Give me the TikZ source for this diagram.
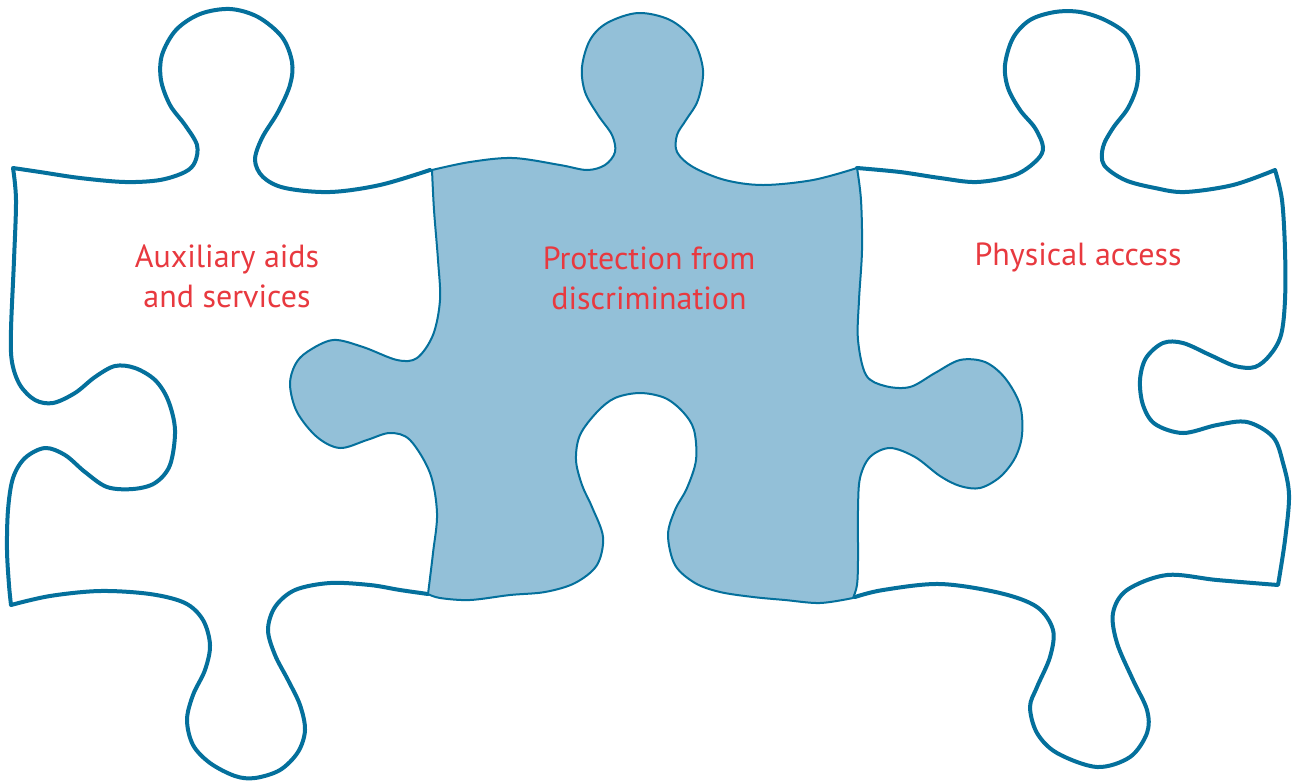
\documentclass[tikz,border=0pt]{standalone}
\usepackage{fontspec}
\setmainfont{PT Sans}
\definecolor{edge}{HTML}{04709C}
\definecolor{piecefill}{HTML}{93C0D8}
\definecolor{labelred}{HTML}{E8393F}
\begin{document}
\begin{tikzpicture}[x=1pt,y=-1pt,
  thickedge/.style={draw=edge, line width=4pt, line join=round, line cap=round},
  thinedge/.style={draw=edge, line width=2pt, fill=piecefill, line join=round},
  lbl/.style={text=labelred, font=\fontsize{32}{40}\selectfont, align=center}]
\fill[white] (0,0) rectangle (1297,780);
\useasboundingbox (0,0) rectangle (1297,780);
% left piece (open outline; right side is the middle piece's edge)
\draw[thickedge]
  plot[smooth, tension=0.55] coordinates {(430,170) (380,185) (330,192) (285,188) (263,177) (255,160) (262,138) (278,112) (290,85) (292,62) (282,37) (258,17) (230,9) (200,14) (176,30) (162,55) (161,80) (170,105) (185,125) (197,145) (195,162) (185,172) (160,180) (125,182) (80,178) (40,172) (13,168)}
  -- plot[smooth, tension=0.55] coordinates {(13,168) (16,200) (14,260) (11,330) (12,362) (20,385) (35,400) (53,403) (75,393) (95,377) (115,366) (135,368) (155,380) (168,400) (175,430) (170,465) (155,483) (133,489) (107,487) (85,472) (65,455) (45,448) (25,458) (13,478) (8,510) (7,550) (9,585) (11,605)}
  -- plot[smooth, tension=0.55] coordinates {(11,605) (50,596) (100,591) (150,594) (185,603) (203,620) (210,645) (205,670) (193,695) (187,720) (193,745) (210,763) (235,776) (255,778) (280,770) (298,752) (305,730) (300,705) (288,680) (275,655) (268,630) (275,607) (295,590) (330,583) (370,585) (400,590) (428,594)};
% right piece (open outline)
\draw[thickedge]
  plot[smooth, tension=0.55] coordinates {(857,168) (900,172) (940,178) (977,182) (1015,175) (1037,160) (1043,147) (1035,128) (1020,110) (1008,88) (1005,65) (1013,38) (1030,20) (1055,12) (1080,12) (1105,20) (1127,35) (1137,60) (1137,85) (1128,108) (1113,128) (1103,147) (1104,165) (1125,180) (1155,188) (1185,192) (1233,185) (1275,170)}
  -- plot[smooth, tension=0.55] coordinates {(1275,170) (1282,200) (1285,250) (1285,300) (1281,335) (1270,355) (1255,367) (1235,366) (1210,355) (1183,343) (1163,343) (1146,358) (1140,380) (1143,405) (1155,424) (1183,433) (1217,425) (1247,422) (1273,437) (1283,463) (1289,495) (1285,540) (1278,585)}
  -- plot[smooth, tension=0.55] coordinates {(1278,585) (1217,580) (1167,575) (1127,590) (1113,613) (1117,643) (1133,680) (1147,710) (1147,733) (1130,757) (1097,767) (1057,753) (1037,733) (1030,707) (1037,687) (1050,657) (1053,630) (1037,607) (1000,593) (940,584) (883,590) (855,597)};
% middle piece
\draw[thinedge]
  plot[smooth, tension=0.55] coordinates {(432,170) (470,162) (513,158) (560,165) (587,170) (605,165) (615,152) (612,135) (598,115) (585,92) (582,67) (590,40) (607,23) (638,13) (670,20) (693,40) (703,70) (698,100) (686,120) (677,135) (677,152) (693,167) (725,180) (763,185) (813,180) (857,168)}
  -- plot[smooth, tension=0.55] coordinates {(857,168) (861,200) (862,250) (859,300) (858,340) (866,375) (885,386) (910,387) (935,373) (960,360) (985,362) (1005,378) (1020,405) (1022,435) (1015,458) (1000,477) (980,488) (960,486) (940,476) (915,457) (890,448) (870,457) (860,478) (858,510) (858,560) (857,585) (853,598)}
  -- plot[smooth, tension=0.55] coordinates {(853,598) (820,603) (785,600) (753,597) (720,592) (695,583) (675,565) (668,535) (675,510) (687,488) (696,460) (694,430) (683,412) (665,398) (640,393) (615,398) (597,412) (580,435) (576,460) (582,485) (592,507) (603,537) (597,565) (575,583) (545,592) (510,595) (470,600) (440,598) (428,594)}
  -- plot[smooth, tension=0.55] coordinates {(428,594) (433,553) (437,513) (430,473) (410,440) (390,433) (367,440) (340,448) (317,437) (297,412) (290,385) (295,365) (307,352) (333,340) (363,347) (397,360) (417,358) (433,335) (440,300) (438,260) (434,210) (432,170)}
  -- cycle;
% labels
\node[lbl] (aux) at (227,276) {Auxiliary aids\\and services};
\node[lbl] (prot) at (649,278) {Protection from\\discrimination};
\node[lbl] (phys) at (1078,257) {Physical access};
\end{tikzpicture}
\end{document}
